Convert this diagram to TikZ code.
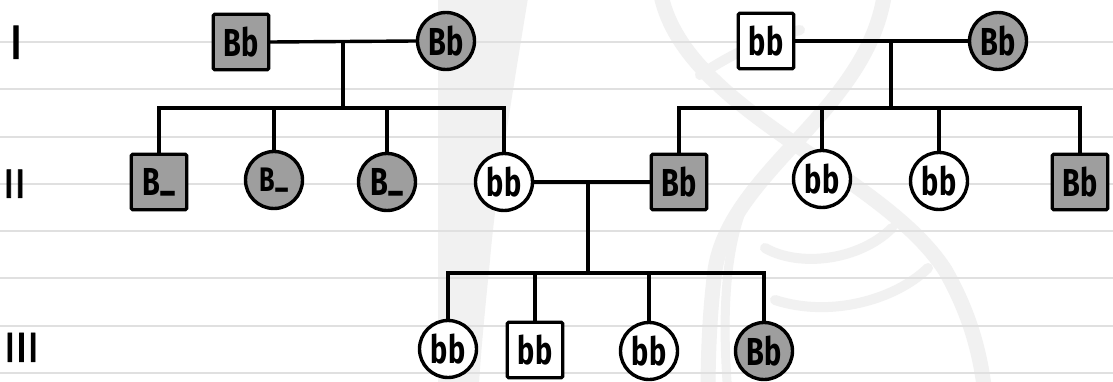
\documentclass[tikz,border=0pt]{standalone}
\usepackage{fontspec}
\usepackage{graphicx}
\newfontfamily\handfont{Fira Sans}
\newfontfamily\romfont{Liberation Sans}[FakeBold=1.6]
\definecolor{affgrey}{RGB}{158,158,158}
\definecolor{paperline}{RGB}{224,224,224}
\definecolor{wmark}{RGB}{241,241,241}
\newcommand\gtxt[1]{\scalebox{0.74}[1]{\handfont\bfseries\fontsize{39}{39}\selectfont #1}}
\newcommand\gtxs[1]{\scalebox{0.74}[1]{\handfont\bfseries\fontsize{34}{34}\selectfont #1}}
\newcommand\bund{B\raisebox{0.16em}{\smash{\_}}}
\tikzset{
  sq/.style={draw, line width=3.4pt, minimum width=55.5pt, minimum height=55.5pt, rounded corners=1.5pt, inner sep=0pt},
  ci/.style={draw, circle, line width=3.4pt, minimum size=57pt, inner sep=0pt},
  aff/.style={fill=affgrey},
  unaff/.style={fill=white},
  conn/.style={line width=3.4pt, line cap=rect},
  rom/.style={inner sep=0pt, anchor=south, font=\romfont},
  ruled/.style={line width=2pt, draw=paperline},
  wm/.style={draw=wmark, line width=15pt, line cap=round},
}
\begin{document}
\begin{tikzpicture}[x=1pt,y=-1pt]
\useasboundingbox (0,0) rectangle (1113,382);
\fill[white] (0,0) rectangle (1113,382);
% watermark
\fill[wmark] (438,-2) -- (528,-2) .. controls (508,120) and (495,200) .. (490,260) .. controls (485,310) and (481,350) .. (479,384) -- (438,384) -- cycle;
\draw[wm] (660,-10) .. controls (680,110) and (880,170) .. (945,270) .. controls (965,305) and (980,345) .. (985,395);
\draw[wm] (885,-10) .. controls (870,110) and (730,170) .. (715,270) .. controls (710,310) and (708,350) .. (708,395);
\draw[wm, line width=9pt] (740,215) .. controls (725,260) and (722,320) .. (728,395);
\draw[wm, line width=10pt] (700,75) .. controls (730,55) and (760,40) .. (800,30);
\draw[wm, line width=10pt] (765,248) .. controls (800,268) and (860,260) .. (892,228);
\draw[wm, line width=10pt] (775,300) .. controls (830,318) and (895,300) .. (928,268);
% ruled lines
\foreach \yy in {42.3,89.3,136.7,184.3,231,278.3,326,373.3}
  \draw[ruled] (0,\yy) -- (1113,\yy);
% generation labels
\node[rom, font=\romfont\fontsize{48}{48}\selectfont] (gI) at (16,59) {I};
\node[rom, font=\romfont\fontsize{41}{41}\selectfont] (gII) at (14.5,198) {II};
\node[rom, font=\romfont\fontsize{42}{42}\selectfont] (gIII) at (21.5,362) {III};
% generation I
\node[sq, aff] (f1) at (241,42) {\gtxt{Bb}};
\node[ci, aff] (m1) at (446,41) {\gtxt{Bb}};
\node[sq, unaff] (f2) at (766,41) {\gtxt{bb}};
\node[ci, aff] (m2) at (998,41) {\gtxt{Bb}};
% generation II
\node[sq, aff] (a1) at (159,182) {\gtxt{\bund}};
\node[ci, aff] (a2) at (274,180) {\gtxs{\bund}};
\node[ci, aff] (a3) at (387,182) {\gtxt{\bund}};
\node[ci, unaff] (a4) at (504,182) {\gtxt{bb}};
\node[sq, aff] (b1) at (679,182) {\gtxt{Bb}};
\node[ci, unaff] (b2) at (822,179) {\gtxt{bb}};
\node[ci, unaff] (b3) at (939,181) {\gtxt{bb}};
\node[sq, aff] (b4) at (1080,182) {\gtxt{Bb}};
% generation III
\node[ci, unaff] (d1) at (448,349) {\gtxt{bb}};
\node[sq, unaff] (d2) at (535,350) {\gtxt{bb}};
\node[ci, unaff] (d3) at (649,351) {\gtxt{bb}};
\node[ci, aff] (d4) at (764,351) {\gtxt{Bb}};
% junctions
\coordinate (c1) at (343,42);
\coordinate (s1) at (343,108);
\coordinate (c2) at (891,41);
\coordinate (s2) at (891,108);
\coordinate (c3) at (588,182);
\coordinate (s3) at (588,273);
% connectors
\draw[conn] (f1.east) -- (m1.west);
\draw[conn] (c1) -- (s1);
\draw[conn] (a1.north) |- (s1) -| (a4.north);
\draw[conn] (a2.north) -- (a2.north |- s1);
\draw[conn] (a3.north) -- (a3.north |- s1);
\draw[conn] (f2.east) -- (m2.west);
\draw[conn] (c2) -- (s2);
\draw[conn] (b1.north) |- (s2) -| (b4.north);
\draw[conn] (b2.north) -- (b2.north |- s2);
\draw[conn] (b3.north) -- (b3.north |- s2);
\draw[conn] (a4.east) -- (b1.west);
\draw[conn] (c3) -- (s3);
\draw[conn] (d1.north) |- (s3) -| (d4.north);
\draw[conn] (d2.north) -- (d2.north |- s3);
\draw[conn] (d3.north) -- (d3.north |- s3);
\end{tikzpicture}
\end{document}
